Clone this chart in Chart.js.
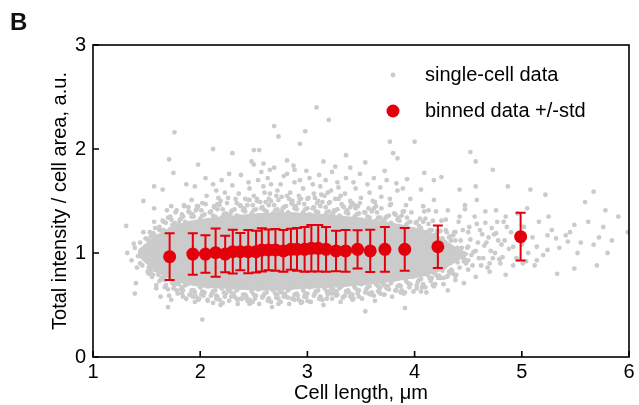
<!DOCTYPE html>
<html>
<head>
<meta charset="utf-8">
<script src="https://cdn.jsdelivr.net/npm/chart.js@4.4.1/dist/chart.umd.min.js"></script>
<style>
  html, body { margin: 0; padding: 0; background: #fff; }
  #wrap { position: relative; width: 639px; height: 405px; }
  #panel { position: absolute; left: 10px; top: 8px; font: bold 24px "Liberation Sans", Arial, sans-serif; color: #111; }
</style>
</head>
<body>
<div id="wrap">
  <canvas id="chart" width="639" height="405"></canvas>
  <div id="panel">B</div>
</div>
<script>
// ticks
const xTicks = [1, 2, 3, 4, 5, 6];
const yTicks = [0, 1, 2, 3];

// binned data (mean +/- std)
const binX = [1.715, 1.931, 2.049, 2.144, 2.233, 2.304, 2.374, 2.448, 2.521, 2.575, 2.638, 2.702, 2.776, 2.846,
              2.903, 2.974, 3.037, 3.101, 3.174, 3.267, 3.356, 3.468, 3.586, 3.723, 3.908, 4.217, 4.989];
const binY = [0.965, 0.99, 0.99, 1.003, 0.99, 1.013, 1.013, 1.013, 1.013, 1.03, 1.03, 1.03, 1.02, 1.035,
              1.035, 1.035, 1.045, 1.045, 1.035, 1.02, 1.02, 1.035, 1.02, 1.035, 1.035, 1.06, 1.157];
const binStd = [0.224, 0.199, 0.181, 0.232, 0.176, 0.21, 0.18, 0.208, 0.2, 0.208, 0.195, 0.2, 0.2, 0.197,
                0.205, 0.216, 0.224, 0.224, 0.216, 0.195, 0.2, 0.184, 0.203, 0.216, 0.205, 0.205, 0.229];

// single-cell data: the dense core where the dots overlap completely (lower / upper edge)
const coreX    = [1.42, 1.50, 1.60, 1.75, 1.90, 2.10, 2.30, 2.50, 2.70, 2.90, 3.10, 3.30, 3.50, 3.70, 3.90, 4.10, 4.25, 4.40, 4.50];
const coreLow  = [0.97, 0.89, 0.81, 0.73, 0.69, 0.66, 0.65, 0.64, 0.64, 0.65, 0.66, 0.67, 0.69, 0.71, 0.74, 0.78, 0.83, 0.92, 0.98];
const coreHigh = [1.03, 1.10, 1.18, 1.26, 1.31, 1.34, 1.36, 1.38, 1.39, 1.39, 1.38, 1.36, 1.34, 1.31, 1.27, 1.22, 1.15, 1.05, 1.00];

// single-cell data: dots along the upper rim of the core
const cellsRimTop = [
  [1.52,1.12],[1.56,1.19],[1.60,1.15],[1.64,1.22],[1.68,1.29],[1.72,1.23],[1.76,1.29],[1.80,1.29],[1.84,1.35],[1.88,1.28],
  [1.92,1.35],[1.96,1.41],[2.00,1.33],[2.04,1.37],[2.08,1.31],[2.12,1.36],[2.16,1.42],[2.20,1.34],[2.24,1.38],[2.28,1.37],
  [2.32,1.42],[2.36,1.35],[2.40,1.41],[2.44,1.46],[2.48,1.38],[2.52,1.42],[2.56,1.35],[2.60,1.41],[2.64,1.46],[2.68,1.38],
  [2.72,1.42],[2.76,1.40],[2.80,1.45],[2.84,1.37],[2.88,1.43],[2.92,1.48],[2.96,1.39],[3.00,1.43],[3.04,1.36],[3.08,1.40],
  [3.12,1.45],[3.16,1.36],[3.20,1.40],[3.24,1.38],[3.28,1.42],[3.32,1.34],[3.36,1.39],[3.40,1.44],[3.44,1.35],[3.48,1.38],
  [3.52,1.31],[3.56,1.35],[3.60,1.40],[3.64,1.31],[3.68,1.34],[3.72,1.32],[3.76,1.36],[3.80,1.27],[3.84,1.32],[3.88,1.36],
  [3.92,1.27],[3.96,1.30],[4.00,1.22],[4.04,1.26],[4.08,1.30],[4.12,1.20],[4.16,1.22],[4.20,1.18],[4.24,1.21],[4.28,1.11],
  [4.32,1.15],[4.36,1.17],[4.40,1.05],
  [1.54,1.16],[1.58,1.14],[1.62,1.25],[1.66,1.22],[1.70,1.34],[1.74,1.27],[1.78,1.26],[1.82,1.33],[1.86,1.30],[1.90,1.39],
  [1.94,1.35],[1.98,1.45],[2.02,1.36],[2.06,1.31],[2.10,1.40],[2.14,1.35],[2.18,1.46],[2.22,1.37],[2.26,1.35],[2.30,1.41],
  [2.34,1.36],[2.38,1.45],[2.42,1.40],[2.46,1.51],[2.50,1.41],[2.54,1.36],[2.58,1.44],[2.62,1.40],[2.66,1.50],[2.70,1.41],
  [2.74,1.38],[2.78,1.44],[2.82,1.39],[2.86,1.47],[2.90,1.42],[2.94,1.52],[2.98,1.42],[3.02,1.37],[3.06,1.44],[3.10,1.39],
  [3.14,1.49],[3.18,1.39],[3.22,1.36],[3.26,1.41],[3.30,1.36],[3.34,1.44],[3.38,1.38],[3.42,1.48],[3.46,1.37],[3.50,1.32],
  [3.54,1.39],[3.58,1.34],[3.62,1.43],[3.66,1.34],[3.70,1.30],[3.74,1.35],[3.78,1.29],[3.82,1.37],[3.86,1.31],[3.90,1.40],
  [3.94,1.29],[3.98,1.23],[4.02,1.30],[4.06,1.24],[4.10,1.33],[4.14,1.22],[4.18,1.17],[4.22,1.21],[4.26,1.14],[4.30,1.20],
  [4.34,1.12],[4.38,1.20],
  [1.53,1.20],[1.57,1.30],[1.61,1.24],[1.65,1.31],[1.69,1.41],[1.73,1.32],[1.77,1.39],[1.81,1.32],[1.85,1.45],[1.89,1.40],
  [1.93,1.37],[1.97,1.45],[2.01,1.41],[2.05,1.47],[2.09,1.39],[2.13,1.44],[2.17,1.53],[2.21,1.42],[2.25,1.48],[2.29,1.40],
  [2.33,1.52],[2.37,1.46],[2.41,1.43],[2.45,1.51],[2.49,1.46],[2.53,1.52],[2.57,1.43],[2.61,1.49],[2.65,1.57],[2.69,1.46],
  [2.73,1.51],[2.77,1.43],[2.81,1.55],[2.85,1.48],[2.89,1.45],[2.93,1.52],[2.97,1.47],[3.01,1.53],[3.05,1.43],[3.09,1.48],
  [3.13,1.56],[3.17,1.44],[3.21,1.49],[3.25,1.41],[3.29,1.52],[3.33,1.45],[3.37,1.41],[3.41,1.48],[3.45,1.43],[3.49,1.48],
  [3.53,1.39],[3.57,1.43],[3.61,1.50],[3.65,1.39],[3.69,1.43],[3.73,1.34],[3.77,1.46],[3.81,1.38],[3.85,1.34],[3.89,1.40],
  [3.93,1.34],[3.97,1.39],[4.01,1.29],[4.05,1.33],[4.09,1.40],[4.13,1.28],[4.17,1.31],[4.21,1.21],[4.25,1.31],[4.29,1.22],
  [4.33,1.16],[4.37,1.20]
];
// single-cell data: dots along the lower rim of the core
const cellsRimBottom = [
  [1.52,0.86],[1.56,0.79],[1.60,0.83],[1.64,0.76],[1.68,0.69],[1.72,0.75],[1.76,0.69],[1.80,0.70],[1.84,0.64],[1.88,0.70],
  [1.92,0.64],[1.96,0.58],[2.00,0.67],[2.04,0.62],[2.08,0.68],[2.12,0.63],[2.16,0.58],[2.20,0.66],[2.24,0.61],[2.28,0.63],
  [2.32,0.58],[2.36,0.66],[2.40,0.60],[2.44,0.54],[2.48,0.63],[2.52,0.59],[2.56,0.66],[2.60,0.61],[2.64,0.56],[2.68,0.64],
  [2.72,0.60],[2.76,0.62],[2.80,0.58],[2.84,0.66],[2.88,0.60],[2.92,0.55],[2.96,0.64],[3.00,0.61],[3.04,0.68],[3.08,0.63],
  [3.12,0.58],[3.16,0.66],[3.20,0.63],[3.24,0.65],[3.28,0.60],[3.32,0.68],[3.36,0.63],[3.40,0.58],[3.44,0.67],[3.48,0.64],
  [3.52,0.71],[3.56,0.67],[3.60,0.62],[3.64,0.70],[3.68,0.67],[3.72,0.69],[3.76,0.65],[3.80,0.74],[3.84,0.68],[3.88,0.64],
  [3.92,0.73],[3.96,0.70],[4.00,0.78],[4.04,0.74],[4.08,0.70],[4.12,0.79],[4.16,0.76],[4.20,0.79],[4.24,0.76],[4.28,0.86],
  [4.32,0.82],[4.36,0.80],[4.40,0.91],
  [1.54,0.82],[1.58,0.84],[1.62,0.73],[1.66,0.76],[1.70,0.65],[1.74,0.71],[1.78,0.72],[1.82,0.65],[1.86,0.69],[1.90,0.60],
  [1.94,0.64],[1.98,0.55],[2.02,0.63],[2.06,0.68],[2.10,0.59],[2.14,0.64],[2.18,0.55],[2.22,0.62],[2.26,0.65],[2.30,0.59],
  [2.34,0.64],[2.38,0.56],[2.42,0.60],[2.46,0.51],[2.50,0.60],[2.54,0.65],[2.58,0.57],[2.62,0.62],[2.66,0.53],[2.70,0.61],
  [2.74,0.64],[2.78,0.58],[2.82,0.64],[2.86,0.56],[2.90,0.61],[2.94,0.52],[2.98,0.61],[3.02,0.67],[3.06,0.59],[3.10,0.64],
  [3.14,0.55],[3.18,0.63],[3.22,0.67],[3.26,0.61],[3.30,0.66],[3.34,0.58],[3.38,0.64],[3.42,0.55],[3.46,0.65],[3.50,0.70],
  [3.54,0.62],[3.58,0.68],[3.62,0.59],[3.66,0.68],[3.70,0.71],[3.74,0.66],[3.78,0.71],[3.82,0.64],[3.86,0.69],[3.90,0.61],
  [3.94,0.71],[3.98,0.77],[4.02,0.69],[4.06,0.75],[4.10,0.67],[4.14,0.76],[4.18,0.81],[4.22,0.76],[4.26,0.83],[4.30,0.77],
  [4.34,0.84],[4.38,0.78],
  [1.55,0.77],[1.59,0.69],[1.63,0.74],[1.67,0.67],[1.71,0.59],[1.75,0.66],[1.79,0.61],[1.83,0.67],[1.87,0.56],[1.91,0.60],
  [1.95,0.62],[1.99,0.56],[2.03,0.59],[2.07,0.54],[2.11,0.61],[2.15,0.56],[2.19,0.50],[2.23,0.58],[2.27,0.54],[2.31,0.61],
  [2.35,0.51],[2.39,0.56],[2.43,0.58],[2.47,0.52],[2.51,0.56],[2.55,0.51],[2.59,0.59],[2.63,0.54],[2.67,0.48],[2.71,0.57],
  [2.75,0.53],[2.79,0.61],[2.83,0.51],[2.87,0.56],[2.91,0.59],[2.95,0.53],[2.99,0.58],[3.03,0.53],[3.07,0.61],[3.11,0.56],
  [3.15,0.50],[3.19,0.60],[3.23,0.56],[3.27,0.63],[3.31,0.53],[3.35,0.59],[3.39,0.62],[3.43,0.56],[3.47,0.61],[3.51,0.56],
  [3.55,0.65],[3.59,0.60],[3.63,0.54],[3.67,0.64],[3.71,0.60],[3.75,0.68],[3.79,0.58],[3.83,0.64],[3.87,0.68],[3.91,0.62],
  [3.95,0.67],[3.99,0.63],[4.03,0.72],[4.07,0.67],[4.11,0.62],[4.15,0.73],[4.19,0.70],[4.23,0.78],[4.27,0.70],[4.31,0.78],
  [4.35,0.83],[4.39,0.79]
];
// single-cell data: looser dots above and below the rim
const cellsUpper = [
  [1.62,1.22],[1.66,1.30],[1.72,1.35],[1.78,1.41],[1.83,1.37],[1.85,1.46],[1.92,1.51],[1.97,1.43],[2.02,1.48],[2.06,1.55],
  [2.13,1.45],[2.15,1.60],[2.19,1.50],[2.26,1.53],[2.30,1.65],[2.34,1.48],[2.36,1.57],[2.42,1.52],[2.46,1.62],[2.50,1.55],
  [2.54,1.70],[2.56,1.49],[2.60,1.58],[2.64,1.52],[2.66,1.66],[2.72,1.60],[2.76,1.54],[2.78,1.74],[2.84,1.58],[2.86,1.50],
  [2.88,1.68],[2.92,1.55],[2.96,1.62],[3.00,1.52],[3.02,1.72],[3.06,1.57],[3.10,1.50],[3.12,1.64],[3.16,1.55],[3.20,1.48],
  [3.22,1.60],[3.26,1.52],[3.28,1.68],[3.32,1.47],[3.35,1.57],[3.40,1.50],[3.45,1.62],[3.47,1.45],[3.50,1.53],[3.58,1.58],
  [3.63,1.49],[3.69,1.54],[3.78,1.47],[3.84,1.60],[3.96,1.52],[4.08,1.45],[4.20,1.40],[4.29,1.32],[4.41,1.30],
  [1.73,1.45],[1.89,1.44],[2.16,1.47],[2.23,1.58],[2.53,1.50],[2.59,1.64],[2.71,1.55],[2.83,1.52],[3.07,1.53],[3.19,1.58],
  [3.31,1.55],[3.44,1.46],[3.64,1.45],[3.77,1.52],[3.92,1.46],[4.13,1.41],
  [2.20,1.70],[2.38,1.75],[2.45,1.68],[2.57,1.78],[2.63,1.72],[2.69,1.82],[2.75,1.66],[2.81,1.76],[2.87,1.84],[2.93,1.70],
  [2.99,1.79],[3.05,1.66],[3.11,1.75],[3.17,1.70],[3.23,1.78],[3.29,1.63],[3.36,1.72],[3.43,1.68],[3.49,1.76],[3.56,1.66],
  [3.62,1.72],[3.68,1.63],[3.74,1.70],[3.83,1.67],[3.89,1.62],[1.95,1.64],[2.05,1.72],[2.12,1.66],[2.27,1.76],[2.50,1.85],
  [3.15,1.88],[3.40,1.82]
];
const cellsLower = [
  [1.61,0.79],[1.67,0.74],[1.78,0.64],[1.83,0.61],[1.93,0.58],[2.01,0.60],[2.07,0.55],[2.15,0.59],[2.21,0.52],[2.29,0.58],
  [2.35,0.55],[2.43,0.57],[2.49,0.53],[2.58,0.58],[2.64,0.56],[2.73,0.51],[2.82,0.57],[2.88,0.55],[2.97,0.58],[3.03,0.53],
  [3.12,0.58],[3.18,0.56],[3.27,0.59],[3.33,0.57],[3.42,0.60],[3.48,0.58],[3.57,0.61],[3.66,0.63],[3.72,0.60],[3.87,0.62],
  [4.02,0.66],[4.17,0.69],[4.27,0.76],[4.34,0.81],[4.42,0.86],[4.46,0.95]
];
const cellsLeft = [
  [1.32,1.00],[1.36,0.93],[1.39,1.05],[1.42,0.97],[1.44,1.10],[1.46,0.88],[1.48,1.02],[1.50,0.94],[1.51,1.13],[1.53,0.85],
  [1.54,1.07],[1.56,0.98],[1.57,1.18],[1.59,0.92],[1.60,1.10],[1.62,1.02],[1.63,0.86],[1.65,1.14],[1.47,1.20],[1.52,0.80],
  [1.58,1.24],[1.41,0.86]
];
const cellsTail = [
  [4.45,1.22],[4.48,0.90],[4.52,1.13],[4.55,1.01],[4.58,1.28],[4.60,0.95],[4.63,1.18],[4.65,1.07],[4.68,0.86],[4.72,1.24],
  [4.75,1.00],[4.78,1.12],[4.80,0.90],[4.83,1.30],[4.88,1.04],[4.90,1.20],[4.95,0.95],[4.98,1.12],[5.02,1.25],[5.06,1.00],
  [5.10,1.15],[5.16,1.30],[5.20,0.98],[5.28,1.22],[5.35,1.05],[5.45,1.20],[5.55,1.10],[5.62,1.30],[5.72,1.15],[5.80,1.00],
  [5.90,1.35],[4.42,1.35],[4.44,1.05],[4.47,1.42],[4.50,1.20],[4.53,0.98],[4.56,1.35],[4.59,1.10],[4.62,0.88],[4.66,1.40],
  [4.69,1.15],[4.73,0.95],[4.77,1.30],[4.81,1.08],[4.86,1.25],[4.92,0.88],[4.96,1.38],[5.00,1.08],[5.04,0.92],
  [4.41,1.00],[4.43,1.12],[4.46,0.92],[4.49,1.05],[4.51,1.25],[4.54,0.88],[4.57,1.02],[4.61,1.22],[4.64,0.95],[4.67,1.10],
  [4.71,1.02],[4.74,1.18],[4.79,0.94],[4.84,1.12]
];
const cellsOutliers = [
  [3.085,2.40],[1.76,2.16],[2.98,2.17],[2.69,2.22],[2.73,2.12],[2.12,2.00],[3.77,2.07],[4.00,2.07],[3.20,2.28],[2.93,2.05],
  [2.50,1.99],[2.55,1.99],[2.30,1.96],[1.71,1.90],[1.98,1.85],[2.48,1.88],[2.81,1.89],[3.36,1.94],[3.80,1.96],[3.84,1.91],
  [4.52,1.97],[4.57,1.88],[3.54,1.87],[3.72,1.79],[4.73,1.80],[4.09,1.77],[4.25,1.73],[3.93,1.71],[1.75,1.77],[1.87,1.66],
  [1.57,1.64],[1.65,1.61],[2.59,1.86],[2.65,1.80],[2.88,1.80],[3.26,1.83],[4.87,1.64],[5.08,1.61],[5.22,1.56],[5.67,1.59],
  [5.78,1.41],[5.59,1.49],[5.25,1.35],[5.49,1.27],[5.76,1.25],[5.99,1.20],[5.84,1.12],[5.67,1.08],[5.41,1.17],[5.24,1.17],
  [5.32,1.14],[5.52,1.00],[5.70,0.88],[5.49,0.85],[5.14,0.93],[5.12,0.88],[4.85,0.79],[4.70,0.82],[4.50,0.84],[4.46,0.71],
  [4.31,0.64],[3.91,0.47],[3.54,0.44],[2.02,0.36],[1.70,0.48],[1.39,0.61],[1.40,0.71],[1.31,1.26],[1.38,1.09],[1.47,1.50],
  [1.57,1.43],[1.49,1.14],[1.44,0.90],[1.51,0.82],[1.59,0.66],[1.63,0.58],[1.73,0.55],[1.84,0.58],[1.95,0.53],[2.12,0.52],
  [2.34,0.56],[2.46,0.55],[2.73,0.56],[3.00,0.54],[3.23,0.61],[3.42,0.56],[3.68,0.61],[4.06,0.63],[4.18,0.68],[4.38,0.74],
  [4.57,0.77],[4.70,0.90],[4.50,0.93],[4.38,1.12],[4.50,1.06],[4.66,1.29],[4.76,1.41],[4.58,1.51],[4.42,1.61],[4.47,1.46],
  [4.31,1.41],[4.18,1.51],[4.06,1.61],[4.18,1.70],[4.57,1.64],[4.92,1.06],[4.82,0.96],[5.24,1.03],[5.14,1.06],[5.43,1.11],
  [5.33,0.80],[5.01,0.90],[4.76,1.19],[4.85,1.35],[5.05,1.43]
];

const GRAY = '#cbcbcb';
const RED = '#e3000b';
const FONT = '"Liberation Sans", Arial, Helvetica, sans-serif';

const toXY = arr => arr.map(p => ({ x: p[0], y: p[1] }));
const singleCell = toXY([].concat(cellsRimTop, cellsRimBottom, cellsUpper, cellsLower, cellsLeft, cellsTail, cellsOutliers));
const binned = binX.map((x, i) => ({ x: x, y: binY[i] }));

// vertical error bars with caps for the binned series
const errorBars = {
  id: 'errorBars',
  beforeDatasetDraw(chart, args) {
    const ds = chart.data.datasets[args.index];
    if (!ds.errors) return;
    const ctx = chart.ctx, xs = chart.scales.x, ys = chart.scales.y;
    ctx.save();
    ctx.strokeStyle = ds.backgroundColor;
    ctx.lineWidth = 2;
    ds.data.forEach((p, i) => {
      const px = xs.getPixelForValue(p.x);
      const top = ys.getPixelForValue(p.y + ds.errors[i]);
      const bot = ys.getPixelForValue(p.y - ds.errors[i]);
      ctx.beginPath();
      ctx.moveTo(px, top); ctx.lineTo(px, bot);
      ctx.moveTo(px - 5, top); ctx.lineTo(px + 5, top);
      ctx.moveTo(px - 5, bot); ctx.lineTo(px + 5, bot);
      ctx.stroke();
    });
    ctx.restore();
  }
};

// box around the plot, tick marks pointing inward
const frame = {
  id: 'frame',
  afterDraw(chart) {
    const ctx = chart.ctx, a = chart.chartArea, xs = chart.scales.x, ys = chart.scales.y;
    ctx.save();
    ctx.strokeStyle = '#000';
    ctx.lineWidth = 1.6;
    ctx.strokeRect(a.left, a.top, a.right - a.left, a.bottom - a.top);
    ctx.beginPath();
    xTicks.forEach(v => {
      const px = xs.getPixelForValue(v);
      ctx.moveTo(px, a.bottom); ctx.lineTo(px, a.bottom - 6);
    });
    yTicks.forEach(v => {
      const py = ys.getPixelForValue(v);
      ctx.moveTo(a.left, py); ctx.lineTo(a.left + 6, py);
    });
    ctx.stroke();
    ctx.restore();
  }
};

// legend in the upper right of the plot
const legendBox = {
  id: 'legendBox',
  afterDraw(chart) {
    const ctx = chart.ctx;
    const items = chart.data.datasets.filter(d => d.legendRank).sort((a, b) => a.legendRank - b.legendRank);
    ctx.save();
    ctx.font = '20px ' + FONT;
    ctx.textBaseline = 'middle';
    items.forEach((d, i) => {
      const y = 75 + i * 36;
      ctx.beginPath();
      ctx.arc(393, y, d.pointRadius, 0, Math.PI * 2);
      ctx.fillStyle = d.backgroundColor;
      ctx.fill();
      ctx.fillStyle = '#000';
      ctx.fillText(d.label, 425, y);
    });
    ctx.restore();
  }
};

new Chart(document.getElementById('chart'), {
  type: 'scatter',
  data: {
    datasets: [
      {
        label: 'binned data +/-std',
        data: binned,
        errors: binStd,
        legendRank: 2,
        backgroundColor: RED,
        borderColor: RED,
        pointRadius: 6.5,
        borderWidth: 0,
        order: 0
      },
      {
        label: 'single-cell data',
        data: singleCell,
        legendRank: 1,
        backgroundColor: GRAY,
        borderColor: GRAY,
        pointRadius: 2.4,
        borderWidth: 0,
        order: 1
      },
      {
        label: 'core low',
        type: 'line',
        data: coreX.map((x, i) => ({ x: x, y: coreLow[i] })),
        borderWidth: 0,
        borderColor: 'rgba(0,0,0,0)',
        pointRadius: 0,
        tension: 0.2,
        fill: false,
        order: 2
      },
      {
        label: 'core high',
        type: 'line',
        data: coreX.map((x, i) => ({ x: x, y: coreHigh[i] })),
        borderWidth: 0,
        borderColor: 'rgba(0,0,0,0)',
        backgroundColor: GRAY,
        pointRadius: 0,
        tension: 0.2,
        fill: '-1',
        order: 3
      }
    ]
  },
  options: {
    responsive: false,
    animation: false,
    events: [],
    layout: { padding: { top: 45, right: 10, left: 0, bottom: 0 } },
    plugins: { legend: { display: false }, tooltip: { enabled: false } },
    scales: {
      x: {
        type: 'linear',
        min: 1, max: 6,
        afterBuildTicks: s => { s.ticks = xTicks.map(v => ({ value: v })); },
        afterFit: s => { s.height = 48; },
        grid: { display: false, drawTicks: false },
        border: { display: false },
        ticks: { color: '#000', font: { family: FONT, size: 20 }, padding: 3, maxRotation: 0, autoSkip: false },
        title: { display: true, text: 'Cell length, μm', color: '#000', font: { family: FONT, size: 20 }, padding: { top: 0, bottom: 0 } }
      },
      y: {
        type: 'linear',
        min: 0, max: 3,
        afterBuildTicks: s => { s.ticks = yTicks.map(v => ({ value: v })); },
        afterFit: s => { s.width = 93; },
        grid: { display: false, drawTicks: false },
        border: { display: false },
        ticks: { color: '#000', font: { family: FONT, size: 20 }, padding: 7 },
        title: { display: true, text: 'Total intensity / cell area, a.u.', color: '#000', font: { family: FONT, size: 20 }, padding: { top: 48, bottom: 0 } }
      }
    }
  },
  plugins: [errorBars, frame, legendBox]
});
</script>
</body>
</html>
